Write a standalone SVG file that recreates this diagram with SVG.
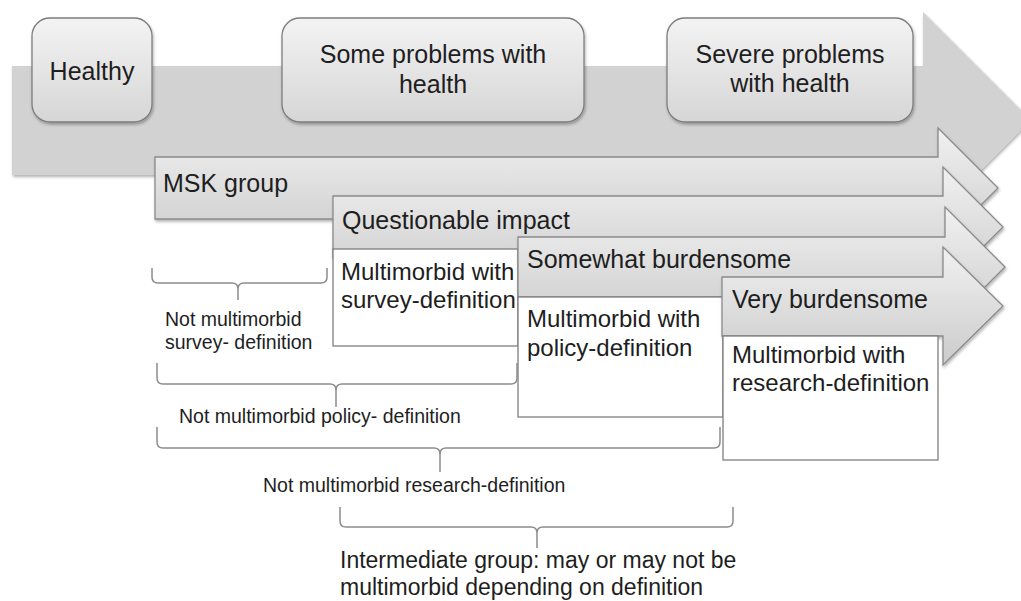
<svg xmlns="http://www.w3.org/2000/svg" width="1021" height="601" viewBox="0 0 1021 601">
<style>
text{font-family:"Liberation Sans",Arial,sans-serif;fill:#1e1e1e}
.stage{fill:url(#gBox);stroke:#7d7d7d;stroke-width:1.3}
.big{fill:#d2d2d2}
.arr{fill:url(#gArr);stroke:#8a8a8a;stroke-width:1.3}
.wbox{fill:#fff;stroke:#7f7f7f;stroke-width:1.3}
.brace{fill:none;stroke:#8c8c8c;stroke-width:1.5}
.t25{font-size:25px}
.t24{font-size:24px}
.t23{font-size:23px}
.t19{font-size:19.5px}
</style>
<defs>
<linearGradient id="gBox" x1="0" y1="0" x2="0" y2="1">
<stop offset="0" stop-color="#f3f3f3"/>
<stop offset="1" stop-color="#d6d6d6"/>
</linearGradient>
<linearGradient id="gArr" x1="0" y1="0" x2="0" y2="1">
<stop offset="0" stop-color="#f1f1f1"/>
<stop offset="1" stop-color="#cbcbcb"/>
</linearGradient>
<filter id="sh" x="-5%" y="-10%" width="110%" height="130%">
<feDropShadow dx="1" dy="2" stdDeviation="1.5" flood-color="#000" flood-opacity="0.3"/>
</filter>
</defs>
<rect width="1021" height="601" fill="#fff"/>

<g id="timeline">
<path class="big" filter="url(#sh)" d="M12,66 L923,66 L923,12 L1031,120 L923,228 L923,175 L12,175 Z"/>
</g>

<g id="healthy">
<rect class="stage" filter="url(#sh)" x="32" y="18" width="120" height="104" rx="18"/>
<text class="t25" x="92" y="80" text-anchor="middle">Healthy</text>
</g>

<g id="some-problems">
<rect class="stage" filter="url(#sh)" x="282" y="18" width="302" height="104" rx="18"/>
<text class="t25" x="433" y="63" text-anchor="middle">Some problems with</text>
<text class="t25" x="433" y="93" text-anchor="middle">health</text>
</g>

<g id="severe-problems">
<rect class="stage" filter="url(#sh)" x="667" y="18" width="246" height="104" rx="18"/>
<text class="t25" x="790" y="63" text-anchor="middle">Severe problems</text>
<text class="t25" x="790" y="92" text-anchor="middle">with health</text>
</g>

<g id="msk-group">
<path class="arr" filter="url(#sh)" d="M155,157 L938,157 L938,128 L998,188 L938,248 L938,219 L155,219 Z"/>
<text class="t25" x="163" y="192">MSK group</text>
</g>

<g id="questionable-impact">
<path class="arr" filter="url(#sh)" d="M333,196 L943,196 L943,167 L1003,227 L943,287 L943,258 L333,258 Z"/>
<text class="t25" x="342" y="229">Questionable impact</text>
<rect class="wbox" x="333" y="249" width="185" height="97"/>
<text class="t24" x="341" y="280">Multimorbid with</text>
<text class="t24" x="341" y="308">survey-definition</text>
</g>

<g id="somewhat-burdensome">
<path class="arr" filter="url(#sh)" d="M518,237 L945,237 L945,207 L1005,267 L945,327 L945,297 L518,297 Z"/>
<text class="t25" x="527" y="268">Somewhat burdensome</text>
<rect class="wbox" x="518" y="297" width="205" height="120"/>
<text class="t24" x="527" y="327">Multimorbid with</text>
<text class="t24" x="527" y="356">policy-definition</text>
</g>

<g id="very-burdensome">
<path class="arr" filter="url(#sh)" d="M722,277 L943,277 L943,247 L1003,306 L943,365 L943,336 L722,336 Z"/>
<text class="t25" x="732" y="308">Very burdensome</text>
<rect class="wbox" x="723" y="336" width="215" height="124"/>
<text class="t24" x="732" y="363">Multimorbid with</text>
<text class="t24" x="732" y="391">research-definition</text>
</g>

<g id="braces">
<path class="brace" d="M152,268 L152,277 Q152,283 158,283 L232,283 Q238,283 238,289 L238,300 M238,289 Q238,283 244,283 L321,283 Q327,283 327,277 L327,268"/>
<path class="brace" d="M157,363 L157,378 Q157,384 163,384 L330,384 Q336,384 336,390 L336,407 M336,390 Q336,384 342,384 L511,384 Q517,384 517,378 L517,363"/>
<path class="brace" d="M157,427 L157,442 Q157,448 163,448 L434,448 Q440,448 440,454 L440,472 M440,454 Q440,448 446,448 L714,448 Q720,448 720,442 L720,427"/>
<path class="brace" d="M340,507 L340,521 Q340,527 346,527 L531,527 Q537,527 537,533 L537,548 M537,533 Q537,527 543,527 L727,527 Q733,527 733,521 L733,507"/>
</g>

<g id="brace-labels">
<text class="t19" x="165" y="326">Not multimorbid</text>
<text class="t19" x="165" y="349">survey- definition</text>
<text class="t19" x="179" y="423">Not multimorbid policy- definition</text>
<text class="t19" x="263" y="492">Not multimorbid research-definition</text>
<text class="t23" x="340" y="568">Intermediate group: may or may not be</text>
<text class="t23" x="340" y="595">multimorbid depending on definition</text>
</g>
</svg>
